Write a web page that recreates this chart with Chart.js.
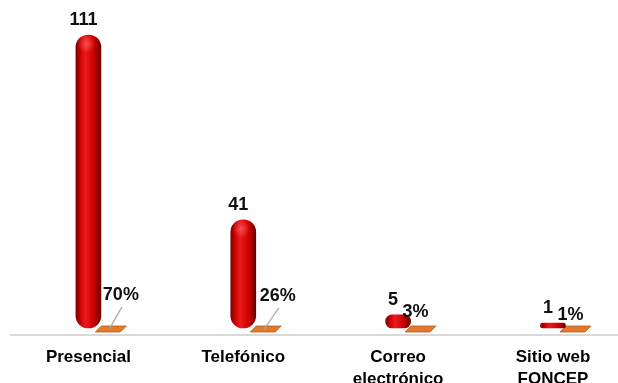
<!DOCTYPE html>
<html>
<head>
<meta charset="utf-8">
<script src="https://cdn.jsdelivr.net/npm/chart.js@4.4.1/dist/chart.umd.min.js"></script>
<style>
  html, body { margin: 0; padding: 0; background: #fff; }
  #wrap { width: 618px; height: 383px; position: relative; }
</style>
</head>
<body>
<div id="wrap"><canvas id="chart"></canvas></div>
<script>
// data
const categories = ['Presencial', 'Telefónico', ['Correo', 'electrónico'], ['Sitio web', 'FONCEP']];
const counts = [111, 41, 5, 1];
const percents = [70, 26, 3, 1];

// layout bits (not data)
const pctShift = 0.145;          // orange floor sits right of each cylinder
const pctLabelOffsets = [[10, -31], [12, -30], [-5, -14], [-5, -11]];
const leaderLines = [true, true, false, false];
const FONT = "'Liberation Sans', Arial, sans-serif";

const countPoints = counts.map((v, i) => ({ x: i, y: v }));
const pctPoints = percents.map((v, i) => ({ x: i + pctShift, y: v / 100 }));

function cylinderFill(context) {
  const chart = context.chart;
  const xs = chart.scales.x;
  if (!xs || !context.raw) return '#d00000';
  const cx = xs.getPixelForValue(context.raw.x);
  if (!Number.isFinite(cx)) return '#d00000';
  const g = chart.ctx.createLinearGradient(cx - 12.5, 0, cx + 12.5, 0);
  g.addColorStop(0, '#7a0000');
  g.addColorStop(0.15, '#c40000');
  g.addColorStop(0.38, '#ec1a1a');
  g.addColorStop(0.7, '#cf0000');
  g.addColorStop(1, '#6e0000');
  return g;
}

const floorPlugin = {
  id: 'floors',
  beforeDatasetsDraw(chart) {
    const ctx = chart.ctx;
    const meta = chart.getDatasetMeta(1);
    const y0 = chart.scales.y.getPixelForValue(0);
    ctx.save();
    meta.data.forEach((el) => {
      const xo = el.x;
      ctx.beginPath();
      ctx.moveTo(xo - 15.5, y0 + 4);
      ctx.lineTo(xo + 9.5, y0 + 4);
      ctx.lineTo(xo + 15.5, y0 - 2);
      ctx.lineTo(xo - 9.5, y0 - 2);
      ctx.closePath();
      ctx.fillStyle = '#e07a2c';
      ctx.fill();
      ctx.strokeStyle = '#b85c18';
      ctx.lineWidth = 0.8;
      ctx.stroke();
    });
    ctx.restore();
  },
  afterDatasetsDraw(chart) {
    const ctx = chart.ctx;
    const y0 = chart.scales.y.getPixelForValue(0);
    const red = chart.getDatasetMeta(0);
    const orange = chart.getDatasetMeta(1);
    ctx.save();

    // soft highlight on the top caps
    red.data.forEach((el) => {
      if (el.base - el.y < 30) return;
      const rg = ctx.createRadialGradient(el.x - 2, el.y + 9, 0, el.x - 2, el.y + 9, 9);
      rg.addColorStop(0, 'rgba(255,120,120,0.55)');
      rg.addColorStop(1, 'rgba(255,120,120,0)');
      ctx.fillStyle = rg;
      ctx.beginPath();
      ctx.arc(el.x - 2, el.y + 9, 9, 0, Math.PI * 2);
      ctx.fill();
    });

    ctx.fillStyle = '#111';
    ctx.textAlign = 'center';
    ctx.textBaseline = 'middle';
    ctx.font = 'bold 18px ' + FONT;

    red.data.forEach((el, i) => {
      ctx.fillText(String(counts[i]), el.x - 5, el.y - 15);
    });

    orange.data.forEach((el, i) => {
      const lx = el.x + pctLabelOffsets[i][0];
      const ly = y0 - 2 + pctLabelOffsets[i][1];
      if (leaderLines[i]) {
        ctx.beginPath();
        ctx.moveTo(el.x - 1.5, y0 + 1);
        ctx.lineTo(lx + 1, ly + 12);
        ctx.strokeStyle = '#a6a6a6';
        ctx.lineWidth = 1.3;
        ctx.stroke();
      }
      ctx.fillStyle = '#111';
      ctx.fillText(percents[i] + '%', lx, ly);
    });
    ctx.restore();
  }
};

new Chart(document.getElementById('chart'), {
  type: 'bar',
  data: {
    datasets: [
      {
        data: countPoints,
        backgroundColor: cylinderFill,
        borderWidth: 0,
        borderRadius: 13,
        borderSkipped: false,
        barThickness: 25,
        minBarLength: 5,
        grouped: false
      },
      {
        data: pctPoints,
        backgroundColor: 'rgba(0,0,0,0)',
        borderWidth: 0,
        barThickness: 25,
        grouped: false
      }
    ]
  },
  options: {
    responsive: true,
    maintainAspectRatio: false,
    animation: false,
    layout: { padding: { left: 11, right: 0, top: 0, bottom: 0 } },
    plugins: { legend: { display: false }, tooltip: { enabled: false } },
    scales: {
      x: {
        type: 'linear',
        offset: false,
        min: -0.5,
        max: 3.42,
        afterBuildTicks: (scale) => { scale.ticks = categories.map((c, i) => ({ value: i })); },
        afterFit: (scale) => { scale.height = 48; },
        grid: { display: false, drawTicks: false, offset: false },
        border: { display: true, color: '#d9d9d9', width: 2 },
        ticks: {
          autoSkip: false,
          maxRotation: 0,
          padding: 12,
          color: '#000',
          font: { family: FONT, size: 17, weight: 'bold', lineHeight: 1.25 },
          callback: (v) => categories[v]
        }
      },
      y: {
        display: false,
        min: -2.65,
        max: 124.26
      }
    }
  },
  plugins: [floorPlugin]
});
</script>
</body>
</html>
